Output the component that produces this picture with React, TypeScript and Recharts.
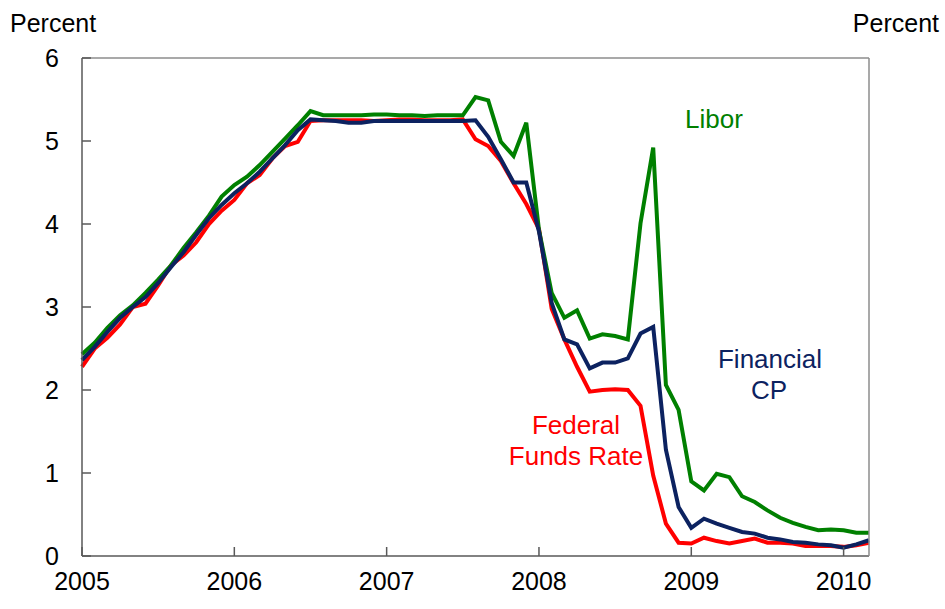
import React from 'react';
import { LineChart, Line, XAxis, YAxis, ReferenceLine } from 'recharts';

// monthly, Jan 2005 .. Mar 2010 (index 0..62)
const years = ['2005', '2006', '2007', '2008', '2009', '2010'];
const yTicks = [0, 1, 2, 3, 4, 5, 6];

const fedFunds = [
  2.28, 2.5, 2.63, 2.79, 3.0, 3.04, 3.26, 3.5, 3.62, 3.78, 4.0, 4.16,
  4.29, 4.49, 4.59, 4.79, 4.94, 4.99, 5.24, 5.25, 5.25, 5.25, 5.25, 5.24,
  5.25, 5.26, 5.26, 5.25, 5.25, 5.25, 5.26, 5.02, 4.94, 4.76, 4.49, 4.24,
  3.94, 2.98, 2.61, 2.28, 1.98, 2.0, 2.01, 2.0, 1.81, 0.97, 0.39, 0.16,
  0.15, 0.22, 0.18, 0.15, 0.18, 0.21, 0.16, 0.16, 0.15, 0.12, 0.12, 0.12,
  0.11, 0.13, 0.16,
];

const financialCP = [
  2.36, 2.52, 2.7, 2.87, 3.0, 3.12, 3.29, 3.48, 3.66, 3.87, 4.07, 4.23,
  4.37, 4.49, 4.63, 4.79, 4.95, 5.13, 5.26, 5.25, 5.24, 5.22, 5.22, 5.24,
  5.24, 5.24, 5.24, 5.24, 5.24, 5.24, 5.24, 5.25, 5.05, 4.78, 4.5, 4.5,
  3.91, 3.05, 2.61, 2.55, 2.26, 2.33, 2.33, 2.38, 2.68, 2.76, 1.28, 0.59,
  0.34, 0.45, 0.39, 0.34, 0.29, 0.27, 0.22, 0.2, 0.17, 0.16, 0.14, 0.13,
  0.1, 0.14, 0.19,
];

const libor = [
  2.43, 2.57, 2.75, 2.9, 3.02, 3.17, 3.33, 3.5, 3.71, 3.9, 4.1, 4.33,
  4.47, 4.57, 4.71, 4.87, 5.03, 5.19, 5.36, 5.31, 5.31, 5.31, 5.31, 5.32,
  5.32, 5.31, 5.31, 5.3, 5.31, 5.31, 5.31, 5.53, 5.49, 4.99, 4.82, 5.22,
  3.93, 3.17, 2.87, 2.96, 2.62, 2.67, 2.65, 2.61, 4.01, 4.92, 2.06, 1.76,
  0.9, 0.79, 0.99, 0.95, 0.72, 0.65, 0.55, 0.46, 0.4, 0.35, 0.31, 0.32,
  0.31, 0.28, 0.28,
];

const data = fedFunds.map((v, i) => ({
  m: i,
  fed: v,
  cp: financialCP[i],
  libor: libor[i],
}));

const FONT = '"Liberation Sans", Arial, sans-serif';
const AXIS = '#595959';
const FRAME = '#8c8c8c';

const LeftTick = ({ x, y, payload }: any) => (
  <g>
    <line x1={x + 23} x2={x + 32} y1={y} y2={y} stroke={AXIS} strokeWidth={1.5} />
    <text x={x} y={y + 9} textAnchor="end" fontSize={25} fontFamily={FONT} fill="#000">
      {payload.value}
    </text>
  </g>
);

const RightTick = ({ x, y, payload }: any) => (
  <g>
    <line x1={x - 23} x2={x - 32} y1={y} y2={y} stroke={FRAME} strokeWidth={1.5} />
    <text x={x} y={y + 9} textAnchor="start" fontSize={25} fontFamily={FONT} fill="#000">
      {payload.value}
    </text>
  </g>
);

const BottomTick = ({ x, y, payload }: any) => (
  <g>
    <line x1={x} x2={x} y1={y} y2={y - 9} stroke={AXIS} strokeWidth={1.5} />
    <text x={x} y={y + 34} textAnchor="middle" fontSize={25} fontFamily={FONT} fill="#000">
      {years[payload.value / 12]}
    </text>
  </g>
);

export default function App() {
  return (
    <div style={{ position: 'absolute', left: 0, top: 0, width: 945, height: 609, background: '#fff' }}>
      <LineChart width={945} height={609} data={data} margin={{ top: 58, right: 0, bottom: 0, left: 0 }}>
        <XAxis
          dataKey="m"
          type="number"
          domain={[0, 62]}
          ticks={[0, 12, 24, 36, 48, 60]}
          height={53}
          tickSize={0}
          tickMargin={0}
          tick={<BottomTick />}
          axisLine={{ stroke: AXIS, strokeWidth: 1.5 }}
          interval={0}
        />
        <YAxis
          yAxisId="left"
          domain={[0, 6]}
          ticks={yTicks}
          width={82}
          tickSize={0}
          tickMargin={23}
          tick={<LeftTick />}
          axisLine={{ stroke: AXIS, strokeWidth: 1.5 }}
          interval={0}
        />
        <YAxis
          yAxisId="right"
          orientation="right"
          domain={[0, 6]}
          ticks={yTicks}
          width={76}
          tickSize={0}
          tickMargin={23}
          tick={<RightTick />}
          axisLine={{ stroke: FRAME, strokeWidth: 1.5 }}
          interval={0}
        />
        <ReferenceLine yAxisId="left" y={6} stroke={FRAME} strokeWidth={1.5} />
        <Line yAxisId="left" dataKey="fed" stroke="#ff0000" strokeWidth={4} dot={false} isAnimationActive={false} />
        <Line yAxisId="left" dataKey="libor" stroke="#008000" strokeWidth={4} dot={false} isAnimationActive={false} />
        <Line yAxisId="left" dataKey="cp" stroke="#0c2260" strokeWidth={4} dot={false} isAnimationActive={false} />
      </LineChart>
      <svg
        width={945}
        height={609}
        style={{ position: 'absolute', left: 0, top: 0, pointerEvents: 'none' }}
        fontFamily={FONT}
      >
        <text x={10} y={32} fontSize={25} fill="#000">Percent</text>
        <text x={939} y={32} fontSize={25} fill="#000" textAnchor="end">Percent</text>
        <text x={685} y={128} fontSize={26} fill="#008000">Libor</text>
        <text x={770} y={368} fontSize={26} fill="#0c2260" textAnchor="middle">Financial</text>
        <text x={769} y={399} fontSize={26} fill="#0c2260" textAnchor="middle">CP</text>
        <text x={576} y={434} fontSize={26} fill="#ff0000" textAnchor="middle">Federal</text>
        <text x={576} y={465} fontSize={26} fill="#ff0000" textAnchor="middle">Funds Rate</text>
      </svg>
    </div>
  );
}
